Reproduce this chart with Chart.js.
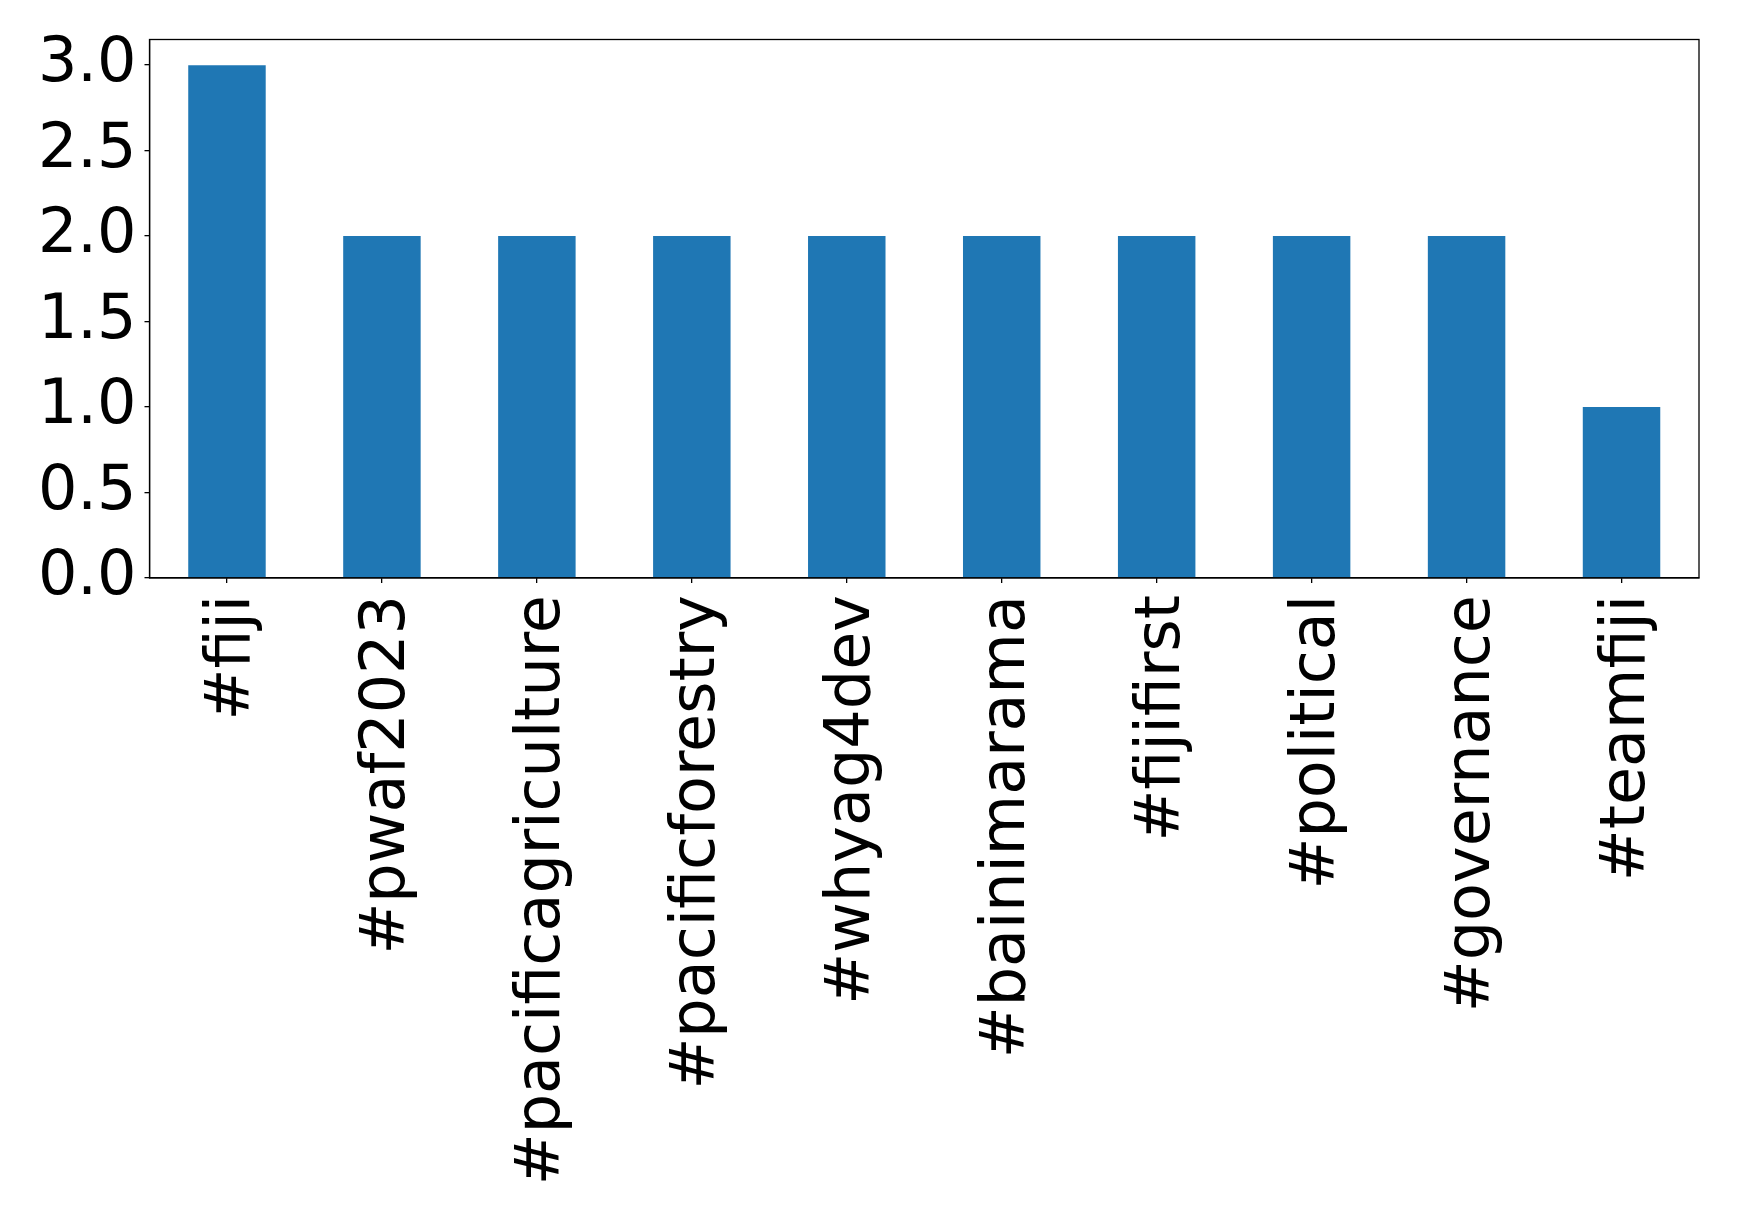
<!DOCTYPE html>
<html>
<head>
<meta charset="utf-8">
<script src="https://cdn.jsdelivr.net/npm/chart.js@4"></script>
<style>
html,body{margin:0;padding:0;background:#fff;}
#wrap{width:1739px;height:1223px;}
</style>
</head>
<body>
<div id="wrap"><canvas id="c" width="1739" height="1223"></canvas></div>
<script>
const categories = ["#fiji","#pwaf2023","#pacificagriculture","#pacificforestry","#whyag4dev","#bainimarama","#fijifirst","#political","#governance","#teamfiji"];
const counts = [3,2,2,2,2,2,2,2,2,1];
const yTicks = [0,0.5,1.0,1.5,2.0,2.5,3.0];

const frame = {
  id:'frame',
  afterDatasetsDraw(chart){
    const a = chart.chartArea, ctx = chart.ctx;
    ctx.save();
    ctx.strokeStyle='#000'; ctx.lineWidth=1.3;
    ctx.strokeRect(a.left, a.top, a.right-a.left, a.bottom-a.top);
    ctx.restore();
  }
};

new Chart(document.getElementById('c'), {
  type:'bar',
  data:{labels:categories, datasets:[{data:counts, backgroundColor:'#1f77b4', barPercentage:0.5, categoryPercentage:1.0}]},
  options:{
    responsive:false, animation:false,
    layout:{padding:{top:39.5,right:40,left:0,bottom:0}},
    plugins:{legend:{display:false}, tooltip:{enabled:false}},
    scales:{
      x:{
        grid:{display:true, offset:false, drawOnChartArea:false, drawTicks:true, tickLength:5, color:'#000', lineWidth:1.3},
        border:{display:true,color:'#000',width:1.3},
        ticks:{color:'#000', font:{family:'DejaVu Sans', size:62}, minRotation:90, maxRotation:90, padding:12, labelOffset:6, autoSkip:false},
        afterFit(s){ s.height = 1223-578; s.paddingLeft = 0; s.paddingRight = 0; }
      },
      y:{
        min:0, max:3.15,
        afterBuildTicks(s){ s.ticks = yTicks.map(v=>({value:v})); },
        grid:{display:true, drawOnChartArea:false, drawTicks:true, tickLength:5, color:'#000', lineWidth:1.3},
        border:{display:true,color:'#000',width:1.3},
        ticks:{color:'#000', font:{family:'DejaVu Sans', size:62}, padding:8, callback:(v)=>Number(v).toFixed(1)},
        afterFit(s){ s.width = 149.5; s.paddingTop = 0; s.paddingBottom = 0; }
      }
    }
  },
  plugins:[frame]
});
</script>
</body>
</html>
